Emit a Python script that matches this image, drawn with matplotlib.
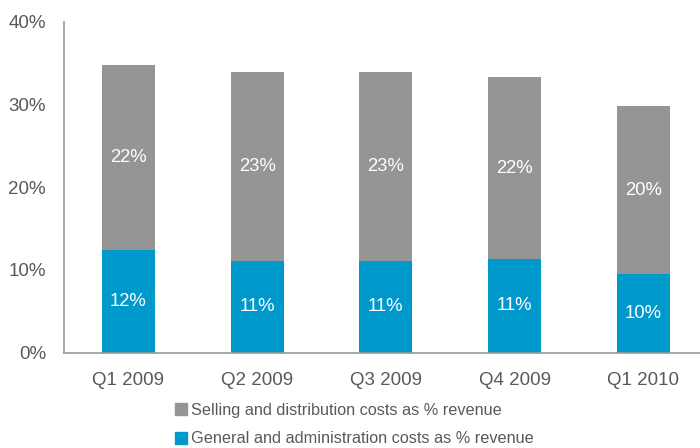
import matplotlib
matplotlib.use("Agg")
import matplotlib.pyplot as plt
from matplotlib.patches import Patch

plt.rcParams['font.family'] = ['Liberation Sans', 'DejaVu Sans']

quarters = ["Q1 2009", "Q2 2009", "Q3 2009", "Q4 2009", "Q1 2010"]
general_admin = [12.4, 11.1, 11.1, 11.3, 9.5]
selling_dist = [22.4, 22.9, 22.9, 22.0, 20.3]
y_ticks = [0, 10, 20, 30, 40]

GRAY = "#959595"
BLUE = "#0099CC"
TEXT = "#595959"

fig = plt.figure(figsize=(7.0, 4.48), dpi=100)
ax = fig.add_axes([64 / 700, 1 - 352.5 / 448, 1 - 64 / 700, (352.5 - 22) / 448])

x = range(len(quarters))
width = 0.41
ax.bar(x, general_admin, width, color=BLUE, zorder=2)
ax.bar(x, selling_dist, width, bottom=general_admin, color=GRAY, zorder=2)

for i in x:
    g = general_admin[i]
    s = selling_dist[i]
    ax.text(i, g / 2, f"{round(g):.0f}%", ha="center", va="center",
            color="white", fontsize=13.3)
    ax.text(i, g + s / 2, f"{round(s):.0f}%", ha="center", va="center",
            color="white", fontsize=13.3)

ax.set_xlim(-0.5, 4.44)
ax.set_ylim(0, 40)
ax.set_yticks(y_ticks)
ax.set_yticklabels([f"{t}%" for t in y_ticks])
ax.set_xticks(list(x))
ax.set_xticklabels(quarters)
ax.tick_params(axis="both", length=0, labelsize=13.5, labelcolor=TEXT)
ax.tick_params(axis="y", pad=13)
ax.tick_params(axis="x", pad=14)

for side in ("top", "right"):
    ax.spines[side].set_visible(False)
for side in ("left", "bottom"):
    ax.spines[side].set_color("#999999")
    ax.spines[side].set_linewidth(1.2)

handles = [Patch(color=GRAY, label="Selling and distribution costs as % revenue"),
           Patch(color=BLUE, label="General and administration costs as % revenue")]
fig.legend(handles=handles, loc="upper left", bbox_to_anchor=(168 / 700, 1 - 396 / 448),
           frameon=False, fontsize=11.7, labelcolor=TEXT, handlelength=0.75,
           handleheight=0.75, handletextpad=0.25, labelspacing=0.85, borderaxespad=0)

fig.savefig("out.png", dpi=100)
